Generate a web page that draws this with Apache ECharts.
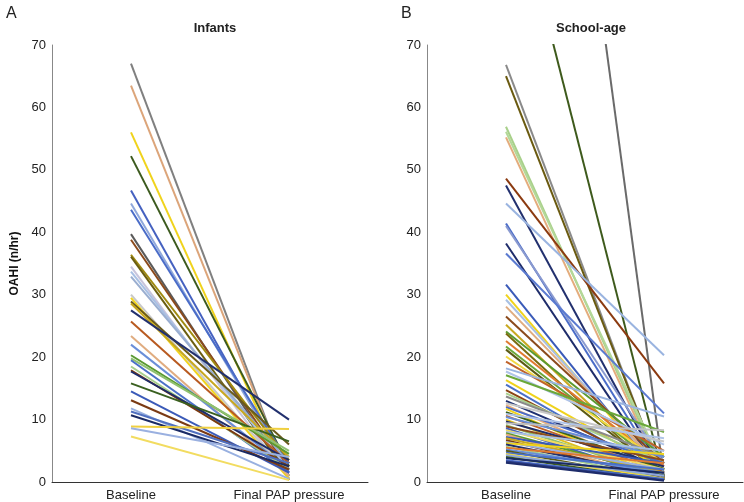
<!DOCTYPE html>
<html>
<head>
<meta charset="utf-8">
<script src="https://cdn.jsdelivr.net/npm/echarts@6/dist/echarts.min.js"></script>
<style>html,body{margin:0;padding:0;background:#fff}#c{width:744px;height:502px}</style>
</head>
<body>
<div id="c"></div>
<script>
const categories = ['Baseline', 'Final PAP pressure'];
const yTicks = [0, 10, 20, 30, 40, 50, 60, 70];

const infantBaseline = [67, 63.5, 56, 52.2, 46.7, 44.6, 43.6, 39.7, 38.8, 36.4, 36.1, 34.5, 33.7, 32.9, 30, 29.5, 28.9, 28.6, 27.5, 25.7, 23.4, 22, 20.3, 19.8, 19.5, 18.5, 17.9, 17.7, 15.8, 14.5, 13.1, 11.8, 11.3, 10.7, 8.9, 8.6, 7.3];
const infantFinal    = [0.3, 0.5, 0.5, 2.5, 1.5, 2, 3, 1, 2, 3.5, 1, 0.5, 2, 3, 1, 0.5, 6, 4, 10, 3, 1, 2, 4.5, 5, 1.5, 2, 2.5, 3.5, 6.5, 1.5, 2, 0.5, 3, 2.5, 8.5, 4, 0.3];
const infantColors = ['#808080', '#dca57a', '#f0d31c', '#3c5a1e', '#4561c0', '#8fa8dc', '#4a6cc8', '#5a5a5a', '#8b4a1c', '#a08a10', '#6b5e10', '#c8c4dc', '#a8c0e4', '#9aaed0', '#c8c8c8', '#f0d31c', '#6a5a1a', '#c8a820', '#22306e', '#b85a20', '#e0ac80', '#6a8ed8', '#5a9a30', '#90c070', '#4a70c8', '#a8d08d', '#7a3a10', '#1e2c6a', '#3a6020', '#3a5ab8', '#7a3a14', '#98b0e0', '#5070c0', '#1a2a64', '#f0d040', '#9ab0e0', '#f2dc60'];

const schoolBaseline = [189, 100, 66.8, 65, 56.9, 56.1, 55.2, 48.6, 47.5, 44.6, 41.4, 41, 38.2, 36.6, 31.6, 30, 29.2, 28.1, 26.5, 25.2, 24.1, 23.8, 22.6, 21.7, 21.2, 20.1, 19.3, 18.2, 17.7, 17.1, 16.3, 15.6, 14.7, 14.2, 13.7, 13, 12.6, 12.3, 12, 11.7, 11.2, 10.9, 10.6, 10.4, 10, 9.7, 9.4, 9.1, 8.9, 8.6, 8.3, 8, 7.8, 7.6, 7.2, 7, 6.7, 6.4, 6.2, 6, 5.7, 5.5, 5.2, 5, 4.7, 4.5, 4.3, 4, 3.8, 3.5, 3.3, 3.1];
const schoolFinal    = [0.8, 0.3, 0.3, 0.5, 1, 2, 0.5, 15.8, 1, 20.3, 1, 3, 0.5, 11, 0.3, 0.5, 1.5, 2, 3, 1, 4, 0.5, 2.5, 2, 1, 3, 5, 10.5, 6, 8, 2, 1, 1.5, 3, 4, 2, 6.5, 1, 3, 0.5, 2, 7, 1.5, 4, 0.5, 2.5, 8.3, 1, 3.5, 0.5, 2, 5, 1, 0.3, 3, 1.5, 0.5, 2, 4.5, 1, 0.5, 3, 1.5, 0.3, 2, 0.5, 1, 0.3, 1.5, 0.5, 0.3, 0.2];
const schoolColors = ['#6a6a6a', '#3e5a1c', '#8a8a8a', '#6a5a10', '#a8d08a', '#b4d898', '#e4ac7c', '#8b3a10', '#22306e', '#9ab4e0', '#4a6cc8', '#8a9ad0', '#1e2c6a', '#5a7ad0', '#3a5ab8', '#f0d31c', '#a8c0e4', '#e0ac80', '#8b4a1c', '#c8a820', '#5a9a30', '#7a6a10', '#e07a30', '#6aa83a', '#5b5a14', '#f2d840', '#c0632a', '#9ab4e0', '#b0c4e8', '#6aa83a', '#f0d31c', '#4a70c8', '#8b4513', '#a8d08d', '#8a8a8a', '#1f3070', '#c8c8c8', '#e8b080', '#4a6cc8', '#f0d31c', '#3a6020', '#b0c4e8', '#c0632a', '#6a8ed8', '#e0c020', '#1e2c6a', '#c0c0c0', '#90c070', '#8b4a1c', '#4561c0', '#f2dc60', '#a8c0e4', '#5a9a30', '#e4ac7c', '#3a5ab8', '#c8a820', '#7a3a10', '#9ab0e0', '#f0d31c', '#22306e', '#a8d08d', '#e07a30', '#6a8ed8', '#5b5a14', '#4a70c8', '#f2d840', '#8fa8dc', '#3c5a1e', '#1a2a64', '#4a6cc8', '#2a3a80', '#1e2c6a'];

const FONT = '"Liberation Sans", Arial, Helvetica, sans-serif';

function makeSeries(base, fin, colors, idx) {
  return base.map((b, i) => ({
    type: 'line',
    xAxisIndex: idx,
    yAxisIndex: idx,
    data: [b, fin[i]],
    symbol: 'none',
    silent: true,
    clip: true,
    lineStyle: { color: colors[i], width: 2 },
    itemStyle: { color: colors[i] }
  }));
}

function xAx(idx) {
  return {
    type: 'category', gridIndex: idx, data: categories, boundaryGap: true,
    axisLine: { lineStyle: { color: '#333', width: 1 } },
    axisTick: { show: false },
    axisLabel: { color: '#222', fontSize: 13, fontFamily: FONT, margin: 7 },
    splitLine: { show: false }
  };
}
function yAx(idx, name) {
  return {
    type: 'value', gridIndex: idx, min: yTicks[0], max: yTicks[yTicks.length - 1], interval: 10,
    name: name || '', nameLocation: 'middle', nameGap: 31,
    nameTextStyle: { fontWeight: 'bold', fontSize: 12, color: '#111', fontFamily: FONT },
    axisLine: { show: true, lineStyle: { color: '#888', width: 1 } },
    axisTick: { show: false },
    axisLabel: { color: '#222', fontSize: 13, fontFamily: FONT, margin: 6 },
    splitLine: { show: false }
  };
}

const chart = echarts.init(document.getElementById('c'), null, { renderer: 'canvas' });
chart.setOption({
  animation: false,
  backgroundColor: '#fff',
  title: [
    { text: 'A', left: 1, top: 1, textStyle: { fontSize: 16, fontWeight: 'normal', color: '#222', fontFamily: FONT } },
    { text: 'Infants', left: 210, top: 17, textAlign: 'center', textStyle: { fontSize: 13, fontWeight: 'bold', color: '#222', fontFamily: FONT } },
    { text: 'B', left: 396, top: 1, textStyle: { fontSize: 16, fontWeight: 'normal', color: '#222', fontFamily: FONT } },
    { text: 'School-age', left: 586, top: 17, textAlign: 'center', textStyle: { fontSize: 13, fontWeight: 'bold', color: '#222', fontFamily: FONT } }
  ],
  grid: [
    { left: 52, top: 45, width: 316, height: 437 },
    { left: 427, top: 45, width: 316, height: 437 }
  ],
  xAxis: [xAx(0), xAx(1)],
  yAxis: [yAx(0, 'OAHI (n/hr)'), yAx(1)],
  series: makeSeries(infantBaseline, infantFinal, infantColors, 0)
    .concat(makeSeries(schoolBaseline, schoolFinal, schoolColors, 1))
});
</script>
</body>
</html>
